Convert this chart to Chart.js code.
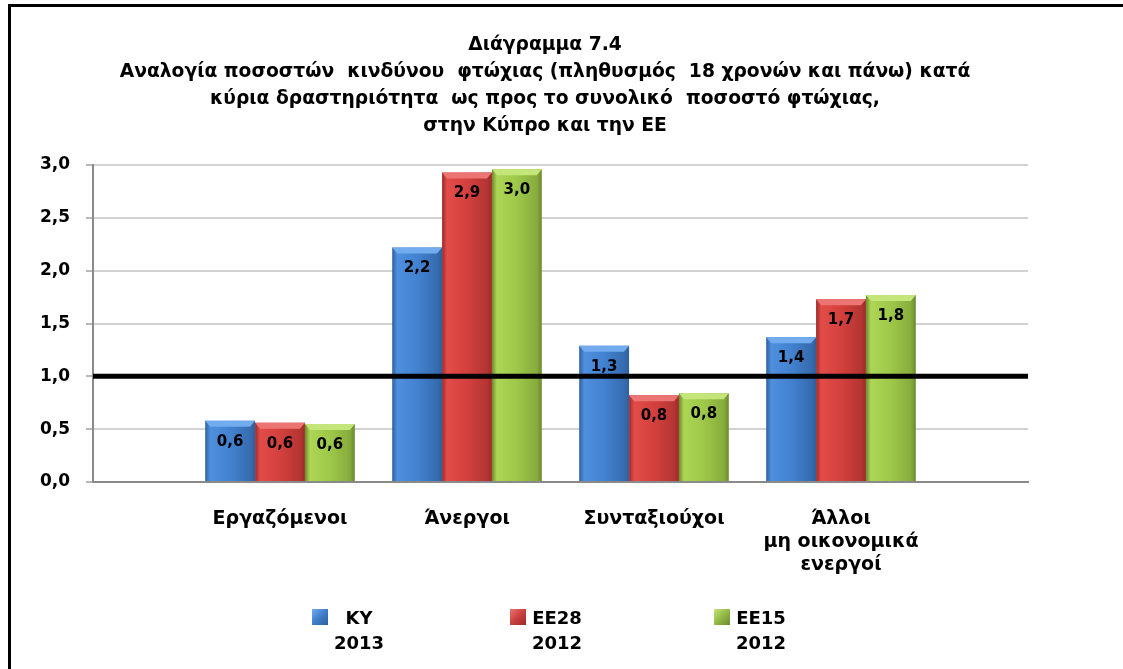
<!DOCTYPE html>
<html>
<head>
<meta charset="utf-8">
<script src="https://cdn.jsdelivr.net/npm/chart.js@4.4.1/dist/chart.umd.min.js"></script>
<style>
  body { margin: 0; background: #fff; }
  #wrap { position: relative; width: 1123px; height: 669px; overflow: hidden; }
  #frame { position: absolute; left: 8px; top: 4px; width: 1300px; height: 900px;
           border-left: 3px solid #000; border-top: 3px solid #000; pointer-events: none; }
  .item { position: absolute; top: 605px; display: flex; align-items: flex-start;
          font: bold 18px "DejaVu Sans", sans-serif; color: #000; }
  .box { width: 16px; height: 16px; margin-top: 4px; margin-right: 6px; }
  .txt { text-align: center; line-height: 25px; }
</style>
</head>
<body>
<div id="wrap">
  <canvas id="chart" width="1123" height="669"></canvas>
  <div id="legend"></div>
  <div id="frame"></div>
</div>
<script>
// data
var categories = ["Εργαζόμενοι", "Άνεργοι", "Συνταξιούχοι", "Άλλοι\nμη οικονομικά\nενεργοί"];
var seriesNames = ["ΚΥ", "ΕΕ28", "ΕΕ15"];
var seriesYears = ["2013", "2012", "2012"];
var valuesKY = [0.58, 2.22, 1.29, 1.37];
var valuesEE28 = [0.56, 2.93, 0.82, 1.73];
var valuesEE15 = [0.55, 2.96, 0.84, 1.77];
var referenceLevel = 1.0;
var yTicks = [0, 0.5, 1, 1.5, 2, 2.5, 3];

var titleLines = [
    "Διάγραμμα 7.4",
    "Αναλογία ποσοστών  κινδύνου  φτώχιας (πληθυσμός  18 χρονών και πάνω) κατά",
    "κύρια δραστηριότητα  ως προς το συνολικό  ποσοστό φτώχιας,",
    "στην Κύπρο και την ΕΕ"
];

// colours: edge, light, mid, dark, top bevel
var palette = [
    { edge: "#2f5f9c", light: "#4e8fde", mid: "#4282d0", dark: "#366cb0", top: "#72abee", swatch: "#3f7cca" },
    { edge: "#9c2a28", light: "#e24c49", mid: "#d4403d", dark: "#b43533", top: "#ec7472", swatch: "#c9403d" },
    { edge: "#6a8a2c", light: "#add655", mid: "#9ec849", dark: "#87ac3d", top: "#c4e57a", swatch: "#93b947" }
];
var legendLeft = [312, 510, 714];

var seriesValues = [valuesKY, valuesEE28, valuesEE15];

function fmt(v) {
    return v.toFixed(1).replace(".", ",");
}

// legend (html)
var legendEl = document.getElementById("legend");
seriesNames.forEach(function (name, i) {
    var item = document.createElement("div");
    item.className = "item";
    item.style.left = legendLeft[i] + "px";
    var box = document.createElement("div");
    box.className = "box";
    box.style.background = "linear-gradient(135deg," + palette[i].top + "," + palette[i].swatch + " 50%," + palette[i].edge + ")";
    var txt = document.createElement("div");
    txt.className = "txt";
    txt.innerHTML = name + "<br>" + seriesYears[i];
    item.appendChild(box);
    item.appendChild(txt);
    legendEl.appendChild(item);
});

var barShade = {
    id: "barShade",
    beforeDatasetsDraw: function (chart) {
        var ctx = chart.ctx;
        chart.data.datasets.forEach(function (ds, i) {
            if (ds.type === "line") return;
            var c = palette[i];
            chart.getDatasetMeta(i).data.forEach(function (bar) {
                var l = bar.x - bar.width / 2, r = bar.x + bar.width / 2;
                var g = ctx.createLinearGradient(l, 0, r, 0);
                g.addColorStop(0, c.edge);
                g.addColorStop(0.1, c.light);
                g.addColorStop(0.5, c.mid);
                g.addColorStop(0.9, c.dark);
                g.addColorStop(1, c.edge);
                bar.options = Object.assign({}, bar.options, { backgroundColor: g });
            });
        });
    },
    afterDatasetDraw: function (chart, args) {
        var ds = chart.data.datasets[args.index];
        if (ds.type === "line") return;
        var ctx = chart.ctx;
        var c = palette[args.index];
        ctx.save();
        ctx.fillStyle = c.top;
        args.meta.data.forEach(function (bar) {
            var l = bar.x - bar.width / 2, r = bar.x + bar.width / 2;
            ctx.beginPath();
            ctx.moveTo(l, bar.y);
            ctx.lineTo(r, bar.y);
            ctx.lineTo(r - 5, bar.y + 6);
            ctx.lineTo(l + 5, bar.y + 6);
            ctx.closePath();
            ctx.fill();
        });
        ctx.restore();
    },
    afterDatasetsDraw: function (chart) {
        var ctx = chart.ctx;
        ctx.save();
        ctx.font = "bold 15px 'DejaVu Sans'";
        ctx.fillStyle = "#000";
        ctx.textAlign = "center";
        ctx.textBaseline = "middle";
        chart.data.datasets.forEach(function (ds, i) {
            if (ds.type === "line") return;
            chart.getDatasetMeta(i).data.forEach(function (bar, j) {
                ctx.fillText(fmt(seriesValues[i][j]), bar.x, bar.y + 21);
            });
        });
        ctx.restore();
    }
};

var barSets = seriesValues.map(function (vals, i) {
    return {
        type: "bar",
        label: seriesNames[i] + " " + seriesYears[i],
        data: vals.map(function (v, j) { return { x: j + 1, y: v }; }),
        backgroundColor: palette[i].mid,
        borderWidth: 0,
        categoryPercentage: 0.8,
        barPercentage: 1.0
    };
});

barSets.push({
    type: "line",
    label: "ref",
    data: [{ x: 0, y: referenceLevel }, { x: categories.length + 1, y: referenceLevel }],
    borderColor: "#000",
    borderWidth: 5,
    pointRadius: 0,
    order: -1
});

var ctx = document.getElementById("chart").getContext("2d");
new Chart(ctx, {
    type: "bar",
    data: { datasets: barSets },
    plugins: [barShade],
    options: {
        responsive: false,
        animation: false,
        layout: { padding: { left: 0, right: 33, top: 18, bottom: 0 } },
        plugins: {
            legend: { display: false },
            tooltip: { enabled: false },
            title: {
                display: true,
                text: titleLines,
                color: "#000",
                font: { family: "DejaVu Sans", weight: "bold", size: 18.7, lineHeight: "27px" },
                padding: { top: 13.5, bottom: 25.5 }
            }
        },
        scales: {
            x: {
                type: "linear",
                min: 0,
                max: categories.length + 1,
                offset: false,
                grid: { display: false, drawTicks: false },
                border: { display: true, color: "#8a8a8a", width: 2 },
                afterBuildTicks: function (scale) {
                    scale.ticks = categories.map(function (c, i) { return { value: i + 1 }; });
                },
                afterFit: function (scale) { scale.height = 187; },
                ticks: {
                    autoSkip: false,
                    maxRotation: 0,
                    padding: 26,
                    color: "#000",
                    font: { family: "DejaVu Sans", weight: "bold", size: 19, lineHeight: "23px" },
                    callback: function (v) {
                        var c = categories[v - 1];
                        return c ? c.split("\n") : "";
                    }
                }
            },
            y: {
                min: 0,
                max: 3,
                afterBuildTicks: function (scale) {
                    scale.ticks = yTicks.map(function (t) { return { value: t }; });
                },
                afterFit: function (scale) { scale.width = 93; },
                grid: { color: "#d2d2d2", lineWidth: 2, tickLength: 7, tickColor: "#b8b8b8" },
                border: { display: true, color: "#8a8a8a", width: 2 },
                ticks: {
                    padding: 16,
                    color: "#000",
                    font: { family: "DejaVu Sans", weight: "bold", size: 17 },
                    callback: function (v) { return fmt(v); }
                }
            },
            y2: {
                position: "right",
                display: true,
                grid: { display: false, drawTicks: false },
                border: { display: false },
                ticks: { display: false },
                afterFit: function (scale) { scale.width = 62; }
            }
        }
    }
});
</script>
</body>
</html>
